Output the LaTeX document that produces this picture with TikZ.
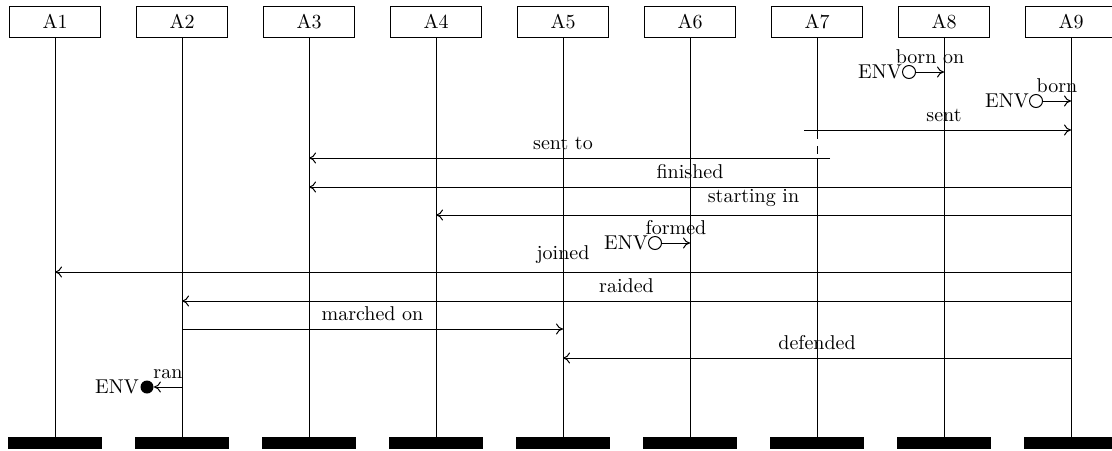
\documentclass[tikz,border=0pt]{standalone}
\usetikzlibrary{arrows.meta}
\begin{document}
\begin{tikzpicture}[x=0.5pt,y=-0.5pt,
  head/.style={draw,minimum width=45.5pt,minimum height=15.5pt,inner sep=0pt,font=\normalsize},
  bar/.style={fill=black,draw=none,minimum width=47pt,minimum height=6pt,inner sep=0pt},
  life/.style={line width=0.4pt},
  msg/.style={-{To[length=3.5pt,width=5.5pt]},line width=0.5pt},
  lbl/.style={above,inner sep=2pt,yshift=2pt},
  ocirc/.style={circle,draw,line width=0.5pt,minimum size=6.5pt,inner sep=0pt},
  fcirc/.style={circle,fill=black,minimum size=6.5pt,inner sep=0pt}]
\useasboundingbox (0,0) rectangle (1112,450);
% heads and bars
\foreach \n in {1,...,9}{
  \node[head] (A\n) at ({55+127*(\n-1)},21.5) {A\n};
  \node[bar] (B\n) at ({55+127*(\n-1)},443) {};
}
% lifelines
\foreach \n in {1,2,3,4,5,6,8,9}{
  \draw[life] (A\n.south) -- (B\n.north);
}
\coordinate (g1) at (817,139);
\coordinate (g2) at (817,146);
\coordinate (g3) at (817,154);
\coordinate (g4) at (817,158);
\draw[life] (A7.south) -- (g1);
\draw[life] (g2) -- (g3);
\draw[life] (g4) -- (B7.north);
% message rows
\coordinate (y1) at (0,72);
\coordinate (y2) at (0,101);
\coordinate (y3) at (0,130);
\coordinate (y4) at (0,158);
\coordinate (y5) at (0,187);
\coordinate (y6) at (0,215);
\coordinate (y7) at (0,243);
\coordinate (y8) at (0,272);
\coordinate (y9) at (0,301);
\coordinate (y10) at (0,329);
\coordinate (y11) at (0,358);
\coordinate (y12) at (0,387);
% born on
\node (E1) at (880,72) {ENV};
\node[ocirc] (C1) at (909,72) {};
\draw[msg] (C1) -- (A8 |- y1) node[midway,lbl] {born on};
% born
\node (E2) at (1007,101) {ENV};
\node[ocirc] (C2) at (1036,101) {};
\draw[msg] (C2) -- (A9 |- y2) node[midway,lbl] {born};
% sent
\coordinate (s1) at (804,130);
\draw[msg] (s1) -- (A9 |- y3);
\node[lbl] (L3) at (944,130) {sent};
% sent to
\coordinate (s2) at (830,158);
\draw[msg] (s2) -- (A3 |- y4);
\node[lbl] (L4) at (563,158) {sent to};
% finished
\draw[msg] (A9 |- y5) -- (A3 |- y5) node[midway,lbl] {finished};
% starting in
\draw[msg] (A9 |- y6) -- (A4 |- y6) node[midway,lbl] {starting in};
% formed
\node (E3) at (626,243) {ENV};
\node[ocirc] (C3) at (655,243) {};
\draw[msg] (C3) -- (A6 |- y7) node[midway,lbl] {formed};
% joined
\draw[msg] (A9 |- y8) -- (A1 |- y8) node[midway,lbl] {joined};
% raided
\draw[msg] (A9 |- y9) -- (A2 |- y9) node[midway,lbl] {raided};
% marched on
\draw[msg] (A2 |- y10) -- (A5 |- y10) node[midway,lbl] {marched on};
% defended
\draw[msg] (A9 |- y11) -- (A5 |- y11) node[midway,lbl] {defended};
% ran
\node (E4) at (117,387) {ENV};
\node[fcirc] (C4) at (147,387) {};
\draw[msg] (A2 |- y12) -- (C4) node[midway,lbl] {ran};
\end{tikzpicture}
\end{document}
